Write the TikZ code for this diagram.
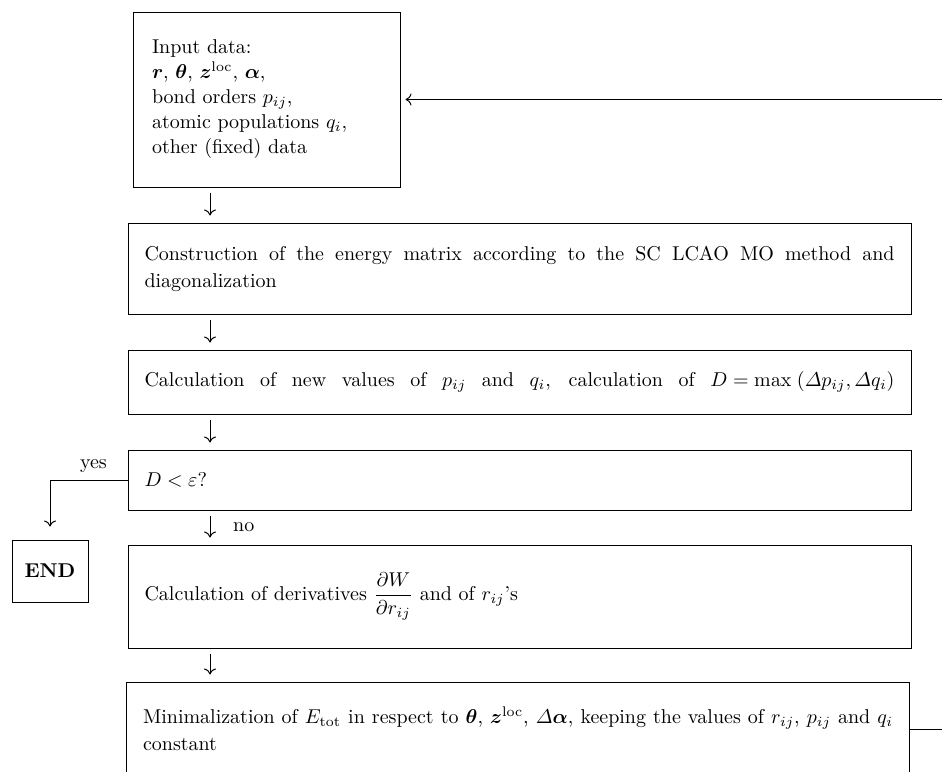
\documentclass[tikz,border=0pt]{standalone}
\usepackage{amsmath}
\usetikzlibrary{arrows.meta}
\hyphenpenalty=10000
\begin{document}
\begin{tikzpicture}[x=0.5pt,y=-0.5pt,
  font=\fontsize{10}{13.5}\selectfont,
  >={Computer Modern Rightarrow[length=3pt,width=6pt]},
  line width=0.5pt,
  stepbox/.style={draw, text width=375pt, inner xsep=8.25pt, inner ysep=0pt, align=justify},
  flow/.style={->, shorten <=2.5pt, shorten >=3.5pt}]
\useasboundingbox (0,0) rectangle (942,771);
\coordinate (spine) at (210,0);
\coordinate (edge) at (952,0);
\node[draw, text width=114.5pt, inner xsep=9.5pt, inner ysep=0pt, minimum height=87.5pt, align=left, font=\fontsize{10}{12.5}\selectfont] (input) at (266.5,99.5) {Input data:\\
$\boldsymbol{r}$, $\boldsymbol{\theta}$, $\boldsymbol{z}^{\mathrm{loc}}$, $\boldsymbol{\alpha}$,\\
bond orders $p_{ij}$,\\
atomic populations $q_i$,\\
other (fixed) data};
\node[stepbox, minimum height=45.5pt] (matrix) at (519.5,268.5) {Construction of the energy matrix according to the SC LCAO MO method and diagonalization};
\node[stepbox, minimum height=32pt] (newpq) at (519.5,382) {\makebox[\linewidth][s]{Calculation of new values of $p_{ij}$ and $q_i$, calculation of $\thickmuskip=5mu D=\max\;(\varDelta p_{ij},\varDelta q_i)$}};
\node[stepbox, minimum height=30pt] (test) at (519.5,480) {$D<\varepsilon$?};
\node[stepbox, minimum height=51.5pt] (deriv) at (519.5,596.5) {Calculation of derivatives $\dfrac{\partial W}{\partial r_{ij}}$ and of $r_{ij}$'s};
\node[stepbox, minimum height=47pt] (minim) at (518,729) {Minimalization of $E_{\mathrm{tot}}$ in respect to $\boldsymbol{\theta}$, $\boldsymbol{z}^{\mathrm{loc}}$, $\varDelta\boldsymbol{\alpha}$, keeping the values of $r_{ij}$, $p_{ij}$ and $q_i$ constant};
\node[draw, minimum width=38pt, minimum height=31pt, font=\bfseries] (stop) at (50,571) {END};
\draw[flow] (input.south -| spine) -- (matrix.north -| spine);
\draw[flow] (matrix.south -| spine) -- (newpq.north -| spine);
\draw[flow] (newpq.south -| spine) -- (test.north -| spine);
\draw[flow] (test.south -| spine) -- node[right, xshift=8pt] (no) {no} (deriv.north -| spine);
\draw[flow] (deriv.south -| spine) -- (minim.north -| spine);
\draw[->, shorten >=6.5pt] (test.west) -| node[above, pos=0.22] (yes) {yes} (stop.north);
% loop back to the input data
\draw[->, shorten >=2.5pt] (minim.east) -- (minim.east -| edge) |- (input.east);
\end{tikzpicture}
\end{document}
